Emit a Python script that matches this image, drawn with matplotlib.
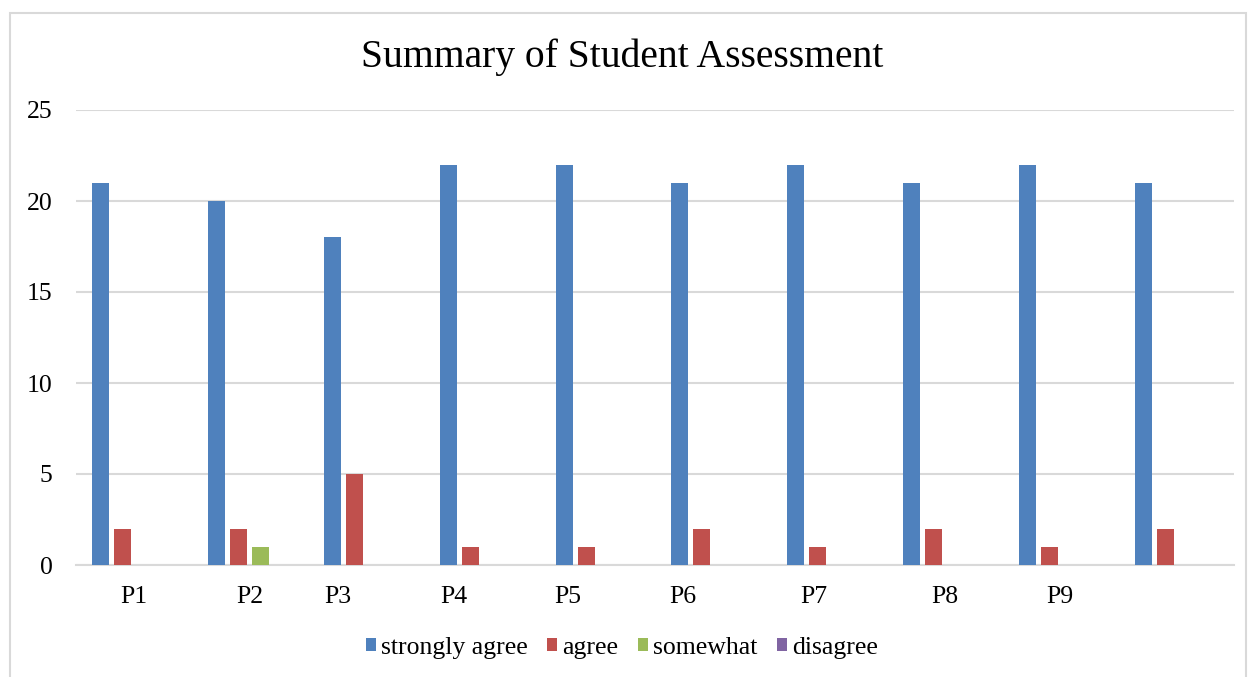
import matplotlib
matplotlib.use("Agg")
import matplotlib.pyplot as plt
from matplotlib.patches import Rectangle
import numpy as np

plt.rcParams["font.family"] = ["Liberation Serif", "DejaVu Serif"]

# data
labels = ["P1", "P2", "P3", "P4", "P5", "P6", "P7", "P8", "P9", ""]
series = ["strongly agree", "agree", "somewhat", "disagree"]
strongly_agree = [21, 20, 18, 22, 22, 21, 22, 21, 22, 21]
agree = [2, 2, 5, 1, 1, 2, 1, 2, 1, 2]
somewhat = [0, 1, 0, 0, 0, 0, 0, 0, 0, 0]
disagree = [0, 0, 0, 0, 0, 0, 0, 0, 0, 0]

colors = ["#4F81BD", "#C0504D", "#9BBB59", "#8064A2"]
# the category labels in the original sit a little off-centre
label_shift = [0, 0, -0.24, -0.24, -0.25, -0.26, -0.13, 0, 0, 0]

fig = plt.figure(figsize=(12.49, 6.77), dpi=100)
ax = fig.add_axes([76 / 1249, 1 - 565 / 677, (1234 - 76) / 1249, (565 - 110) / 677])

x = np.arange(len(labels))
width = 0.146
step = 0.19
handles = []
for k, vals in enumerate([strongly_agree, agree, somewhat, disagree]):
    b = ax.bar(x + (k - 1.5) * step, vals, width, color=colors[k], label=series[k], zorder=3)
    handles.append(b)

ax.set_xlim(-0.5, len(labels) - 0.5)
ax.set_ylim(0, 25)
ax.set_yticks(range(0, 26, 5))
ax.set_xticks(x + np.array(label_shift), labels)
ax.tick_params(axis="y", length=0, pad=17, labelsize=18.5)
ax.tick_params(axis="x", length=0, pad=15, labelsize=18.5)
ax.grid(axis="y", color="#d9d9d9", linewidth=1.5, zorder=0)
for s in ["top", "right", "left"]:
    ax.spines[s].set_visible(False)
ax.spines["bottom"].set_color("#d9d9d9")
ax.spines["bottom"].set_linewidth(1.5)

fig.text(0.498, 1 - 57 / 677, "Summary of Student Assessment", ha="center", va="center", fontsize=28.5)

fig.legend(handles=handles, loc="center", bbox_to_anchor=(0.498, 1 - 648 / 677), ncol=4,
           frameon=False, fontsize=18.5, handlelength=0.4, handleheight=0.4,
           handletextpad=0.2, columnspacing=0.75)

# light outer frame of the chart
fig.patches.append(Rectangle((10 / 1249, -0.05), 1236 / 1249, 1.05 - 13 / 677,
                             transform=fig.transFigure, fill=False,
                             edgecolor="#d9d9d9", linewidth=1.5, clip_on=False))

fig.savefig("out.png", dpi=100)
